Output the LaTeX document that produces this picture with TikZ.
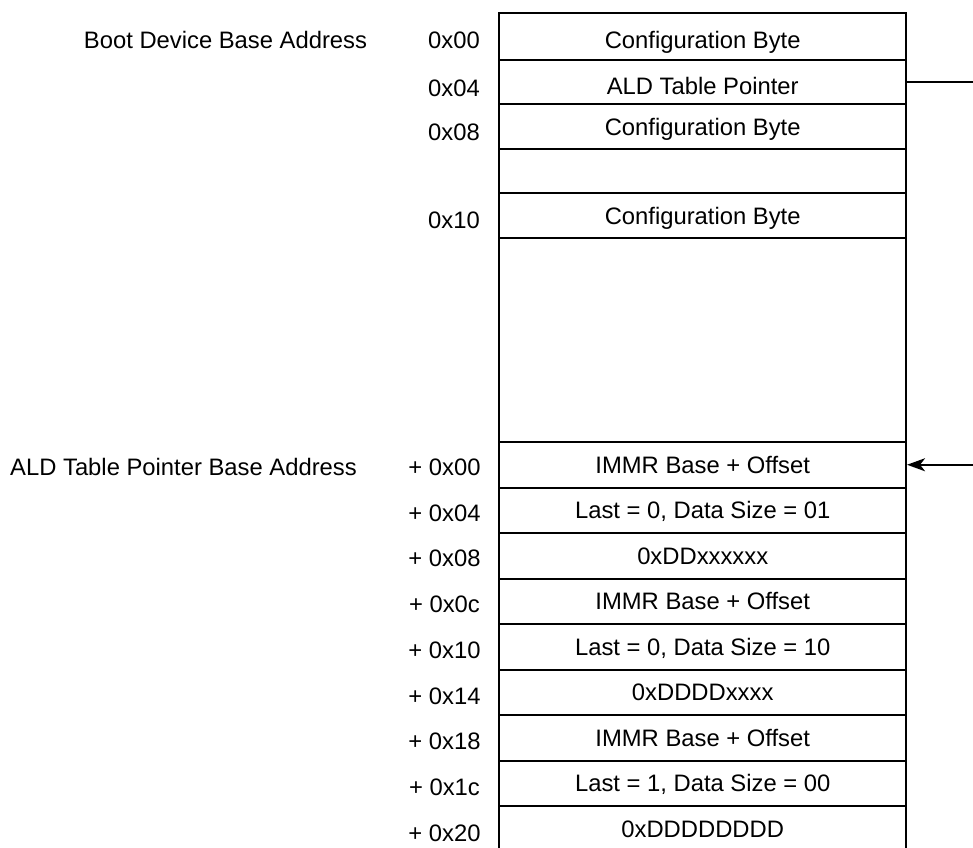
\documentclass[tikz,border=0pt]{standalone}
\usepackage{fontspec}
\setmainfont{Liberation Sans}
\usetikzlibrary{arrows.meta}
\begin{document}
\begin{tikzpicture}[x=1pt,y=-1pt,
  every node/.style={font=\fontsize{23.8}{28}\selectfont, text height=17pt, text depth=0pt, inner sep=0pt},
  cell/.style={draw, line width=2pt, minimum width=406.7pt},
  lowtext/.style={text height=25pt},
  link/.style={line width=1.8pt}]
\useasboundingbox (0,0) rectangle (973,847);
% upper block
\node[cell, lowtext, minimum height=47.3pt] (r1) at (702.7,36.35) {Configuration Byte};
\node[cell, lowtext, minimum height=44pt]   (r2) at (702.7,82)    {ALD Table Pointer};
\node[cell, minimum height=45pt]   (r3) at (702.7,126.5) {Configuration Byte};
\node[cell, minimum height=44pt]   (r4) at (702.7,171)   {};
\node[cell, minimum height=45pt]   (r5) at (702.7,215.5) {Configuration Byte};
\node[cell, minimum height=204pt]  (r6) at (702.7,340)   {};
% ALD table
\node[cell, minimum height=45.5pt] (r7)  at (702.7,464.75) {IMMR Base + Offset};
\node[cell, minimum height=45.5pt] (r8)  at (702.7,510.25) {Last = 0, Data Size = 01};
\node[cell, minimum height=45.5pt] (r9)  at (702.7,555.75) {0xDDxxxxxx};
\node[cell, minimum height=45.5pt] (r10) at (702.7,601.25) {IMMR Base + Offset};
\node[cell, minimum height=45.5pt] (r11) at (702.7,646.75) {Last = 0, Data Size = 10};
\node[cell, minimum height=45.5pt] (r12) at (702.7,692.25) {0xDDDDxxxx};
\node[cell, minimum height=45.5pt] (r13) at (702.7,737.75) {IMMR Base + Offset};
\node[cell, minimum height=45.5pt] (r14) at (702.7,783.25) {Last = 1, Data Size = 00};
\node[cell, minimum height=45.5pt] (r15) at (702.7,828.75) {0xDDDDDDDD};
% left titles
\node (t1) at (225.5,40)  {Boot Device Base Address};
\node (t2) at (183.5,467) {ALD Table Pointer Base Address};
% addresses
\node (a1) at (454,40)    {0x00};
\node (a2) at (454,87.5)  {0x04};
\node (a3) at (454,132) {0x08};
\node (a4) at (454,219.5) {0x10};
\node (b1) at (444.5,467)   {+ 0x00};
\node (b2) at (444.5,512.7) {+ 0x04};
\node (b3) at (444.5,558.4) {+ 0x08};
\node (b4) at (444.5,604.1) {+ 0x0c};
\node (b5) at (444.5,649.8) {+ 0x10};
\node (b6) at (444.5,695.5) {+ 0x14};
\node (b7) at (444.5,741.2) {+ 0x18};
\node (b8) at (444.5,786.9) {+ 0x1c};
\node (b9) at (444.5,832.6) {+ 0x20};
% pointer link (vertical part lies outside the visible area)
\coordinate (turn) at (1000,82);
\draw[link, -{Stealth[length=18pt,width=13pt,inset=5pt]}] (r2.east) -- (turn) |- (r7.east);
\end{tikzpicture}
\end{document}
